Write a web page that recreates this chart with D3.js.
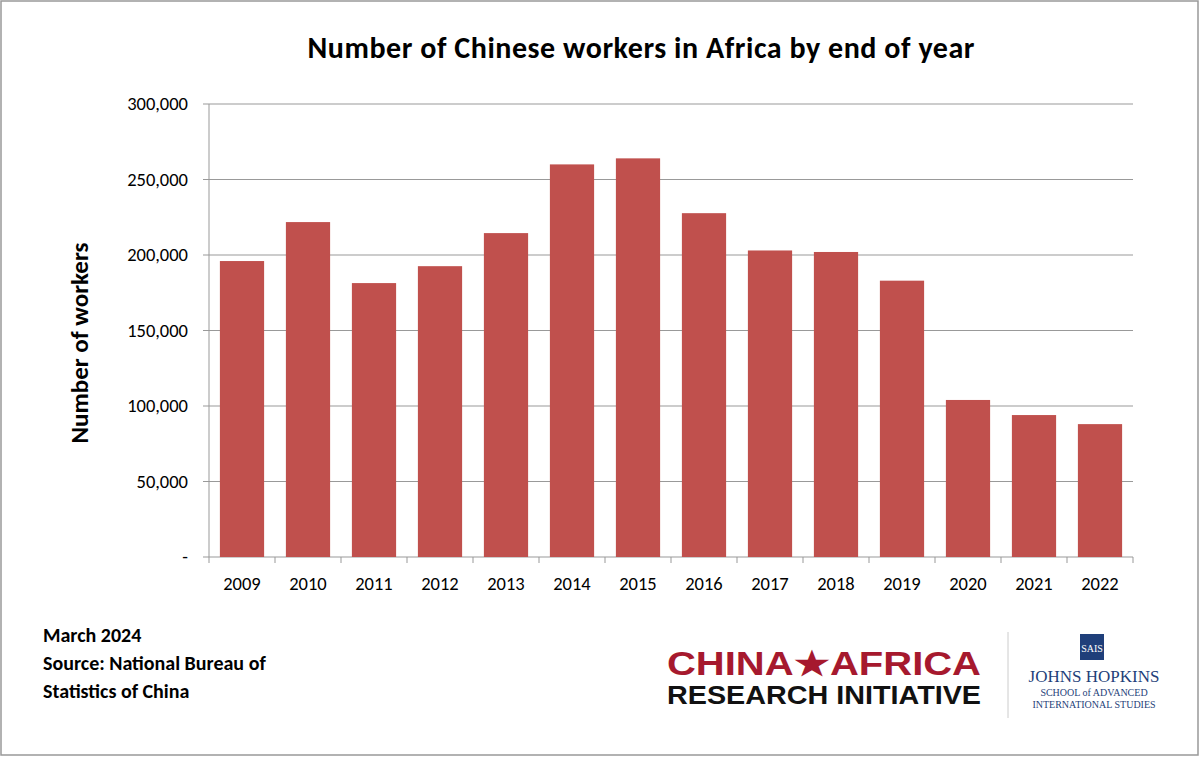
<!DOCTYPE html>
<html><head><meta charset="utf-8">
<script src="https://cdn.jsdelivr.net/npm/d3@7"></script>
<style>body{margin:0;background:#fff}</style></head>
<body><svg id="c" width="1200" height="757"></svg>
<script>
const years=["2009","2010","2011","2012","2013","2014","2015","2016","2017","2018","2019","2020","2021","2022"];
const workers=[196000,221800,181400,192600,214500,260000,264000,227700,203000,202000,183000,104000,94000,88000];
const yTicks=[0,50000,100000,150000,200000,250000,300000];
const svg=d3.select("#c");
const F="Calibri, Carlito, 'Open Sans', sans-serif";
svg.append("rect").attr("x",1).attr("y",1).attr("width",1197).attr("height",754).attr("fill","#fff").attr("stroke","#999").attr("stroke-width",1.5);
const x=d3.scaleBand().domain(years).range([209,1133]).paddingInner(0.33).paddingOuter(0.165);
const y=d3.scaleLinear().domain([0,300000]).range([557,104]);
const g=svg.append("g");
g.selectAll(".gl").data(yTicks).join("line").attr("x1",209).attr("x2",1133).attr("y1",d=>y(d)).attr("y2",d=>y(d)).attr("stroke","#999").attr("stroke-width",1);
g.append("line").attr("x1",209).attr("x2",209).attr("y1",104).attr("y2",557).attr("stroke","#999");
g.selectAll(".tk").data(yTicks).join("line").attr("x1",203).attr("x2",209).attr("y1",d=>y(d)).attr("y2",d=>y(d)).attr("stroke","#999");
g.selectAll(".xt").data(d3.range(15)).join("line").attr("x1",i=>209+i*66).attr("x2",i=>209+i*66).attr("y1",557).attr("y2",563).attr("stroke","#999");
g.selectAll(".bar").data(workers).join("rect").attr("x",(d,i)=>x(years[i])).attr("width",x.bandwidth()).attr("y",d=>y(d)).attr("height",d=>y(0)-y(d)).attr("fill","#c0504d");
g.selectAll(".yl").data(yTicks).join("text").attr("x",188).attr("y",d=>y(d)+6).attr("text-anchor","end").attr("font-family",F).attr("font-size",18.5).attr("fill","#000").text(d=>d===0?"-":d3.format(",")(d));
g.selectAll(".xl").data(years).join("text").attr("x",d=>x(d)+x.bandwidth()/2).attr("y",590).attr("text-anchor","middle").attr("font-family",F).attr("font-size",18.5).text(d=>d);
svg.append("text").attr("x",641).attr("y",58).attr("text-anchor","middle").attr("font-family",F).attr("font-weight","bold").attr("font-size",30).attr("textLength",667).text("Number of Chinese workers in Africa by end of year");
svg.append("text").attr("transform","translate(88,343) rotate(-90)").attr("text-anchor","middle").attr("font-family",F).attr("font-weight","bold").attr("font-size",25).text("Number of workers");
["March 2024","Source: National Bureau of","Statistics of China"].forEach((t,i)=>svg.append("text").attr("x",43).attr("y",642+i*28).attr("font-family",F).attr("font-weight","bold").attr("font-size",20).text(t));
const L=svg.append("g");
L.append("text").attr("x",667).attr("y",675).attr("font-family","'Liberation Sans',Arial,sans-serif").attr("font-weight","900").attr("font-size",33).attr("fill","#a6192e").attr("textLength",314).attr("lengthAdjust","spacingAndGlyphs").text("CHINA★AFRICA");
L.append("text").attr("x",667).attr("y",704).attr("font-family","'Liberation Sans',Arial,sans-serif").attr("font-weight","bold").attr("font-size",25).attr("fill","#111").attr("textLength",314).attr("lengthAdjust","spacingAndGlyphs").text("RESEARCH INITIATIVE");
L.append("line").attr("x1",1008).attr("x2",1008).attr("y1",632).attr("y2",718).attr("stroke","#ccc");
L.append("rect").attr("x",1080).attr("y",634).attr("width",24).attr("height",26).attr("fill","#1f3f7a");
L.append("text").attr("x",1092).attr("y",652).attr("text-anchor","middle").attr("font-family","serif").attr("font-size",10).attr("fill","#fff").text("SAIS");
L.append("text").attr("x",1094).attr("y",682).attr("text-anchor","middle").attr("font-family","'Liberation Serif',serif").attr("font-size",17).attr("fill","#1f3f7a").text("JOHNS HOPKINS");
L.append("text").attr("x",1094).attr("y",696).attr("text-anchor","middle").attr("font-family","'Liberation Serif',serif").attr("font-size",10).attr("fill","#1f3f7a").text("SCHOOL of ADVANCED");
L.append("text").attr("x",1094).attr("y",708).attr("text-anchor","middle").attr("font-family","'Liberation Serif',serif").attr("font-size",10).attr("fill","#1f3f7a").text("INTERNATIONAL STUDIES");
</script></body></html>
